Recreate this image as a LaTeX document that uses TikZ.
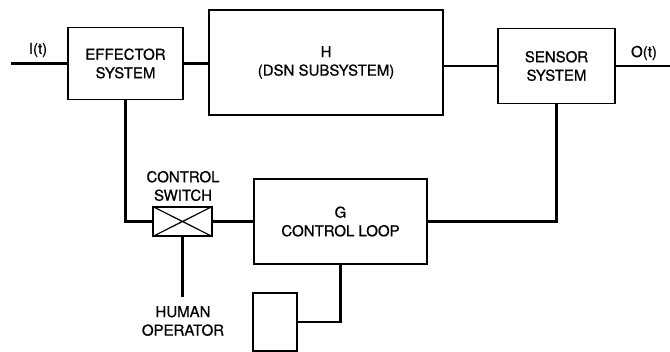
\documentclass[tikz,border=0pt]{standalone}
\usepackage{fontspec}
\setmainfont{TeX Gyre Heros}
\newfontfamily\medfont{TeX Gyre Heros}[FakeBold=0.7]
\begin{document}
\begin{tikzpicture}[x=1pt,y=-1pt,
  box/.style={draw,line width=1.4pt,inner sep=0pt,align=center,
    font=\medfont\fontsize{15}{18.5}\selectfont},
  conn/.style={line width=2.6pt},
  lbl/.style={inner sep=0pt,align=center,font=\medfont\fontsize{15}{18.5}\selectfont}]
\useasboundingbox (0,0) rectangle (670,352);
\node[box,minimum width=115pt,minimum height=72pt] (eff) at (125.5,63.5) {EFFECTOR\\SYSTEM};
\node[box,minimum width=234pt,minimum height=105pt] (H) at (326,62.5) {H\\(DSN SUBSYSTEM)};
\node[box,minimum width=117pt,minimum height=75pt] (sen) at (556.5,66) {SENSOR\\SYSTEM};
\node[box,minimum width=59pt,minimum height=29pt] (sw) at (182.5,221.5) {};
\node[box,minimum width=173pt,minimum height=85pt] (cl) at (340.5,221.5) {G\\CONTROL LOOP};
\node[box,minimum width=44pt,minimum height=58pt] (hb) at (275,322) {};
\draw[line width=1.2pt] (sw.north west) -- (sw.south east) (sw.south west) -- (sw.north east);
\coordinate (in) at (11,63.5);
\coordinate (out) at (670,66);
\coordinate (op) at (182.5,297);
\node[lbl] (it) at (38,50) {I(t)};
\node[lbl] (ot) at (644,53) {O(t)};
\node[lbl] (cs) at (183,186) {CONTROL\\SWITCH};
\node[lbl] (ho) at (183,321) {HUMAN\\OPERATOR};
\draw[conn] (in) -- (eff.west);
\draw[conn] (eff.east) -- (eff.east -| H.west);
\draw[conn] (H.east |- sen.west) -- (sen.west);
\draw[conn] (sen.east) -- (out);
\draw[conn] (eff.south) -- (eff.south |- sw.west) -- (sw.west);
\draw[conn] (sw.east) -- (cl.west);
\draw[conn] (sen.south) -- (sen.south |- cl.east) -- (cl.east);
\draw[conn] (sw.south) -- (op);
\draw[conn] (hb.east) -- (hb.east -| cl.south) -- (cl.south);
\end{tikzpicture}
\end{document}
